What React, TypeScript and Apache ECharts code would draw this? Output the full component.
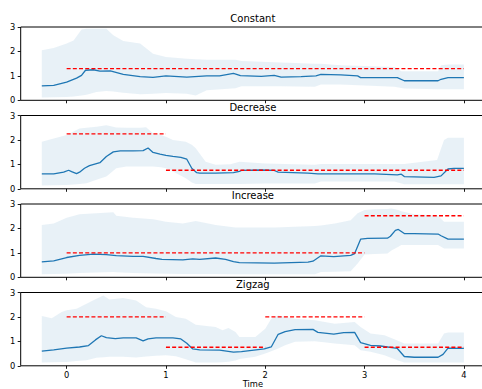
import React, { useEffect, useRef } from "react";
import * as echarts from "echarts";

const panelTitles = ["Constant", "Decrease", "Increase", "Zigzag"];
const xTicks = [0, 1, 2, 3, 4];

// Mean line (x, y) per panel
const constLineX = [-0.25, -0.13, 0, 0.1, 0.15, 0.19, 0.27, 0.335, 0.44, 0.57, 0.74, 0.87, 1.0, 1.21, 1.41, 1.54, 1.68, 1.75, 1.96, 2.09, 2.16, 2.36, 2.51, 2.56, 2.76, 2.93, 2.96, 3.33, 3.4, 3.74, 3.77, 3.84, 4.0];
const constLineY = [0.59, 0.61, 0.74, 0.91, 1.02, 1.23, 1.25, 1.19, 1.2, 1.06, 0.97, 0.94, 1.0, 0.95, 1.0, 1.0, 1.1, 1.01, 0.98, 1.02, 0.95, 0.97, 1.0, 1.06, 1.04, 1.0, 0.93, 0.93, 0.8, 0.8, 0.86, 0.93, 0.93];

const decLineX = [-0.25, -0.13, -0.03, 0.02, 0.05, 0.1, 0.13, 0.18, 0.23, 0.335, 0.4, 0.47, 0.54, 0.67, 0.77, 0.82, 0.87, 0.94, 1.0, 1.07, 1.15, 1.21, 1.26, 1.31, 1.34, 1.5, 1.68, 1.74, 1.76, 1.96, 2.09, 2.13, 2.43, 2.53, 3.1, 3.33, 3.37, 3.4, 3.7, 3.77, 3.84, 3.9, 4.0];
const decLineY = [0.61, 0.61, 0.68, 0.76, 0.7, 0.62, 0.68, 0.84, 0.95, 1.07, 1.32, 1.51, 1.55, 1.55, 1.56, 1.67, 1.49, 1.42, 1.37, 1.33, 1.29, 1.21, 0.84, 0.66, 0.64, 0.64, 0.66, 0.71, 0.75, 0.77, 0.75, 0.68, 0.64, 0.61, 0.61, 0.57, 0.6, 0.5, 0.47, 0.53, 0.81, 0.84, 0.84];

const incLineX = [-0.25, -0.13, 0, 0.13, 0.27, 0.4, 0.5, 0.67, 0.77, 0.9, 0.96, 1.17, 1.27, 1.34, 1.5, 1.6, 1.68, 1.74, 2.09, 2.43, 2.48, 2.56, 2.69, 2.86, 2.9, 2.96, 3.03, 3.23, 3.26, 3.31, 3.34, 3.4, 3.5, 3.74, 3.77, 3.84, 4.0];
const incLineY = [0.63, 0.67, 0.81, 0.9, 0.95, 0.93, 0.89, 0.86, 0.86, 0.77, 0.73, 0.71, 0.75, 0.73, 0.79, 0.73, 0.64, 0.6, 0.58, 0.62, 0.66, 0.88, 0.85, 0.9, 0.97, 1.56, 1.59, 1.6, 1.68, 1.92, 1.96, 1.79, 1.79, 1.77, 1.7, 1.56, 1.56];

const zigLineX = [-0.25, -0.13, 0, 0.13, 0.22, 0.29, 0.35, 0.4, 0.49, 0.57, 0.7, 0.77, 0.82, 0.9, 1.07, 1.15, 1.21, 1.27, 1.34, 1.54, 1.68, 1.76, 1.99, 2.06, 2.13, 2.2, 2.3, 2.48, 2.53, 2.69, 2.79, 2.9, 2.96, 3.06, 3.16, 3.33, 3.4, 3.5, 3.74, 3.79, 3.84, 4.0];
const zigLineY = [0.6, 0.65, 0.72, 0.77, 0.83, 1.06, 1.23, 1.15, 1.11, 1.14, 1.14, 1.02, 1.1, 1.14, 1.14, 1.1, 0.92, 0.69, 0.65, 0.64, 0.56, 0.58, 0.69, 0.77, 1.29, 1.4, 1.48, 1.49, 1.37, 1.3, 1.36, 1.37, 0.95, 0.84, 0.81, 0.71, 0.38, 0.35, 0.35, 0.47, 0.72, 0.71];

// Uncertainty band per panel
const constBandX = [-0.25, -0.13, 0, 0.07, 0.15, 0.2, 0.3, 0.4, 0.47, 0.57, 0.74, 0.87, 1.0, 1.21, 1.3, 1.41, 1.7, 1.76, 2.16, 2.5, 2.56, 2.76, 3.3, 3.37, 3.4, 3.74, 3.77, 3.84, 4.0];
const constBandHi = [2.05, 2.14, 2.32, 2.45, 2.9, 2.93, 2.93, 2.93, 2.66, 2.43, 2.32, 1.91, 1.77, 1.7, 1.68, 1.66, 1.66, 1.61, 1.55, 1.5, 1.5, 1.43, 1.36, 1.19, 1.19, 1.19, 1.43, 1.47, 1.47];
const constBandLo = [0.11, 0.12, 0.14, 0.16, 0.2, 0.23, 0.34, 0.38, 0.36, 0.31, 0.25, 0.27, 0.3, 0.27, 0.2, 0.41, 0.49, 0.57, 0.57, 0.55, 0.65, 0.65, 0.55, 0.5, 0.48, 0.45, 0.45, 0.45, 0.45];

const decBandX = [-0.25, -0.13, 0, 0.13, 0.2, 0.3, 0.4, 0.5, 0.6, 0.74, 0.8, 0.87, 0.95, 1.0, 1.07, 1.2, 1.26, 1.3, 1.4, 1.5, 1.65, 1.74, 2.0, 2.5, 2.56, 3.3, 3.4, 3.73, 3.8, 3.84, 4.0];
const decBandHi = [1.93, 2.06, 2.2, 2.47, 2.5, 2.54, 2.6, 2.51, 2.5, 2.5, 2.52, 2.27, 2.2, 2.13, 2.0, 1.93, 1.8, 1.66, 1.11, 0.98, 1.0, 1.11, 1.04, 0.98, 1.02, 1.02, 1.02, 1.18, 2.0, 2.09, 2.09];
const decBandLo = [0.14, 0.15, 0.16, 0.2, 0.23, 0.37, 0.5, 0.84, 0.91, 0.91, 0.91, 0.91, 0.88, 0.84, 0.71, 0.43, 0.26, 0.2, 0.2, 0.2, 0.2, 0.2, 0.22, 0.22, 0.3, 0.3, 0.19, 0.19, 0.19, 0.19, 0.19];

const incBandX = [-0.25, -0.13, 0, 0.13, 0.3, 0.47, 0.5, 0.67, 0.87, 1.0, 1.17, 1.3, 1.5, 1.7, 2.1, 2.3, 2.5, 2.56, 2.7, 2.86, 2.93, 3.0, 3.1, 3.23, 3.27, 3.34, 3.37, 3.5, 3.74, 3.8, 3.84, 4.0];
const incBandHi = [2.14, 2.2, 2.44, 2.58, 2.62, 2.66, 2.52, 2.44, 2.38, 2.27, 2.2, 2.3, 2.14, 2.04, 2.04, 2.07, 2.1, 2.12, 2.2, 2.34, 2.62, 2.75, 2.79, 2.8, 2.82, 2.75, 2.7, 2.58, 2.52, 2.27, 2.27, 2.27];
const incBandLo = [0.12, 0.13, 0.15, 0.18, 0.2, 0.22, 0.21, 0.18, 0.16, 0.15, 0.14, 0.14, 0.14, 0.12, 0.12, 0.12, 0.12, 0.22, 0.23, 0.25, 0.56, 0.93, 0.95, 0.97, 1.1, 1.25, 1.32, 1.32, 1.32, 1.18, 1.18, 1.18];

const zigBandX = [-0.25, -0.15, -0.05, 0, 0.1, 0.2, 0.3, 0.37, 0.43, 0.57, 0.7, 0.8, 0.9, 1.0, 1.1, 1.2, 1.3, 1.5, 1.57, 1.63, 1.7, 1.74, 1.9, 2.0, 2.06, 2.13, 2.2, 2.3, 2.5, 2.7, 2.9, 2.96, 3.06, 3.2, 3.33, 3.4, 3.74, 3.8, 3.84, 4.0];
const zigBandHi = [2.04, 1.95, 2.2, 2.27, 2.33, 2.54, 2.74, 2.88, 2.71, 2.77, 2.67, 2.4, 2.33, 2.23, 2.0, 1.93, 1.68, 1.59, 1.45, 1.55, 1.38, 1.18, 1.18, 1.52, 1.93, 2.06, 2.0, 1.93, 1.86, 1.72, 1.79, 1.59, 1.32, 1.25, 1.04, 0.91, 0.91, 1.32, 1.36, 1.36];
const zigBandLo = [0.14, 0.15, 0.16, 0.16, 0.2, 0.23, 0.33, 0.35, 0.37, 0.37, 0.34, 0.38, 0.41, 0.43, 0.39, 0.27, 0.14, 0.14, 0.15, 0.17, 0.22, 0.28, 0.37, 0.5, 0.6, 0.71, 0.84, 0.98, 1.0, 0.91, 0.84, 0.64, 0.57, 0.43, 0.23, 0.14, 0.14, 0.14, 0.14, 0.14];

// Target (red dashed) segments: [xStart, xEnd, level]
const constTargets = [[0, 4, 1.3]];
const decTargets = [[0, 1, 2.25], [1, 4, 0.76]];
const incTargets = [[0, 3, 1.0], [3, 4, 2.52]];
const zigTargets = [[0, 1, 2.0], [1, 2, 0.76], [2, 3, 2.0], [3, 4, 0.76]];

const panels = [
  { lx: constLineX, ly: constLineY, bx: constBandX, hi: constBandHi, lo: constBandLo, t: constTargets },
  { lx: decLineX, ly: decLineY, bx: decBandX, hi: decBandHi, lo: decBandLo, t: decTargets },
  { lx: incLineX, ly: incLineY, bx: incBandX, hi: incBandHi, lo: incBandLo, t: incTargets },
  { lx: zigLineX, ly: zigLineY, bx: zigBandX, hi: zigBandHi, lo: zigBandLo, t: zigTargets },
];

const FONT = "DejaVu Sans";
const GRID_LEFT = 20.7;
const GRID_WIDTH = 464.3;
const GRID_TOP0 = 27;
const GRID_STEP = 88.5;
const GRID_HEIGHT = 73.3;

export default function App() {
  const ref = useRef<HTMLDivElement>(null);
  useEffect(() => {
    if (!ref.current) return;
    const chart = echarts.init(ref.current, undefined, { renderer: "svg" });
    const grids: any[] = [];
    const xAxes: any[] = [];
    const yAxes: any[] = [];
    const titles: any[] = [];
    const series: any[] = [];
    panels.forEach((p, i) => {
      const isLast = i === panels.length - 1;
      grids.push({
        left: GRID_LEFT,
        width: GRID_WIDTH,
        top: GRID_TOP0 + i * GRID_STEP,
        height: GRID_HEIGHT,
        show: true,
        borderColor: "#000",
        borderWidth: 1,
        backgroundColor: "transparent",
        outerBoundsMode: "none",
        containLabel: false,
      });
      titles.push({
        text: panelTitles[i],
        left: GRID_LEFT + GRID_WIDTH / 2,
        textAlign: "center",
        top: 13.5 + i * GRID_STEP,
        padding: 0,
        textStyle: { fontFamily: FONT, fontSize: 10, fontWeight: "normal", color: "#000" },
      });
      xAxes.push({
        gridIndex: i,
        type: "value",
        min: -0.4625,
        max: 4.2125,
        splitLine: { show: false },
        axisLine: { show: false, onZero: false },
        axisTick: { show: true, length: 3, customValues: xTicks, lineStyle: { color: "#000", width: 0.9 } },
        axisLabel: {
          show: isLast,
          customValues: xTicks,
          margin: 5,
          fontFamily: FONT,
          fontSize: 8.3,
          color: "#000",
        },
        name: isLast ? "Time" : "",
        nameLocation: "middle",
        nameGap: 14.5,
        nameTextStyle: { fontFamily: FONT, fontSize: 8.3, color: "#000" },
      });
      yAxes.push({
        gridIndex: i,
        type: "value",
        min: 0,
        max: 3,
        interval: 1,
        splitLine: { show: false },
        axisLine: { show: false, onZero: false },
        axisTick: { show: true, length: 3, lineStyle: { color: "#000", width: 0.9 } },
        axisLabel: {
          margin: 5.5,
          fontFamily: FONT,
          fontSize: 8.3,
          color: "#000",
        },
      });
      const bx = p.bx;
      const hi = p.hi;
      const lo = p.lo;
      series.push({
        type: "custom",
        xAxisIndex: i,
        yAxisIndex: i,
        silent: true,
        data: bx.map((x, k) => [x, lo[k], hi[k]]),
        renderItem: (params: any, api: any) => {
          if (params.dataIndex !== 0) return null;
          const pts: number[][] = [];
          for (let k = 0; k < bx.length; k++) pts.push(api.coord([bx[k], hi[k]]));
          for (let k = bx.length - 1; k >= 0; k--) pts.push(api.coord([bx[k], lo[k]]));
          return {
            type: "polygon",
            shape: { points: pts },
            style: { fill: "rgba(31,119,180,0.1)", stroke: "none" },
          };
        },
        encode: { x: 0, y: [1, 2] },
        z: 1,
      });
      series.push({
        type: "line",
        xAxisIndex: i,
        yAxisIndex: i,
        symbol: "none",
        silent: true,
        lineStyle: { color: "#1f77b4", width: 1.3 },
        data: p.lx.map((x, k) => [x, p.ly[k]]),
        z: 3,
      });
      p.t.forEach((seg) => {
        series.push({
          type: "line",
          xAxisIndex: i,
          yAxisIndex: i,
          symbol: "none",
          silent: true,
          lineStyle: { color: "#ff0000", width: 1.3, type: [4, 2.2] },
          data: [
            [seg[0], seg[2]],
            [seg[1], seg[2]],
          ],
          z: 4,
        });
      });
    });
    chart.setOption({
      animation: false,
      backgroundColor: "#fff",
      title: titles,
      grid: grids,
      xAxis: xAxes,
      yAxis: yAxes,
      series,
    });
    return () => chart.dispose();
  }, []);
  return (
    <div
      ref={ref}
      style={{ position: "fixed", left: 0, top: 0, width: 482, height: 389 }}
    />
  );
}
